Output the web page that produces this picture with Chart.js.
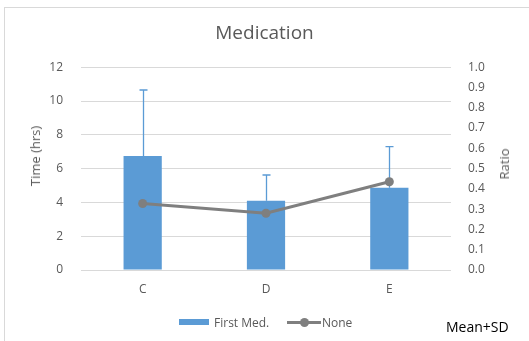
<!DOCTYPE html>
<html>
<head>
<meta charset="utf-8">
<script src="https://cdn.jsdelivr.net/npm/chart.js@4/dist/chart.umd.min.js"></script>
<style>
  html, body { margin: 0; padding: 0; background: #fff; overflow: hidden; }
  #wrap { position: relative; width: 529px; height: 341px; overflow: hidden; }
  #frame { position: absolute; left: 4px; top: 7px; width: 600px; height: 400px; border: 1px solid #d9d9d9; }
  canvas { position: absolute; left: 0; top: 0; }
  .lg { position: absolute; top: 314px; font: 12px "Open Sans", sans-serif; color: #595959; white-space: nowrap; }
  .sw { position: absolute; }
  #note { position: absolute; left: 446px; top: 317px; font: 14px "Open Sans", sans-serif; color: #000; white-space: nowrap; }
  .at { position: absolute; width: 0; height: 0; }
  .at span { position: absolute; left: 0; top: 0; transform: translate(-50%, -50%) rotate(-90deg); font: 13px "Open Sans", sans-serif; color: #595959; white-space: nowrap; }
</style>
</head>
<body>
<div id="wrap">
  <div id="frame"></div>
  <canvas id="c" width="529" height="341"></canvas>
  <div class="at" style="left:35px;top:156px"><span>Time (hrs)</span></div>
  <div class="at" style="left:504px;top:164px"><span>Ratio</span></div>
  <div class="sw" style="left:179px;top:319px;width:30px;height:6px;background:#5b9bd5"></div>
  <div class="lg" style="left:214px">First Med.</div>
  <div class="sw" style="left:287px;top:321px;width:34px;height:3px;background:#7f7f7f"></div>
  <div class="sw" style="left:300px;top:318px;width:9px;height:9px;border-radius:50%;background:#7f7f7f"></div>
  <div class="lg" style="left:322px">None</div>
  <div id="note">Mean+SD</div>
</div>
<script>
const categories = ["C", "D", "E"];
const firstMedMean = [6.75, 4.1, 4.87];
const firstMedSD = [3.9, 1.52, 2.43];
const noneRatio = [0.328, 0.28, 0.435];
const leftTicks = [0, 2, 4, 6, 8, 10, 12];
const rightTicks = [0.0, 0.1, 0.2, 0.3, 0.4, 0.5, 0.6, 0.7, 0.8, 0.9, 1.0];

const errorBars = {
  id: 'errorBars',
  afterDatasetDraw(chart, args) {
    if (args.index !== 0) return;
    const ctx = chart.ctx;
    const y = chart.scales.y;
    const meta = args.meta;
    ctx.save();
    ctx.strokeStyle = '#5b9bd5';
    ctx.lineWidth = 1.3;
    meta.data.forEach((bar, i) => {
      const x = Math.round(bar.x) + 0.5;
      const yTop = y.getPixelForValue(firstMedMean[i] + firstMedSD[i]);
      const yBase = y.getPixelForValue(firstMedMean[i]);
      ctx.beginPath();
      ctx.moveTo(x, yBase);
      ctx.lineTo(x, yTop);
      ctx.moveTo(x - 4, yTop);
      ctx.lineTo(x + 4, yTop);
      ctx.stroke();
    });
    ctx.restore();
  }
};

const tickColor = '#595959';
const tickFont = { family: "'Open Sans', sans-serif", size: 12 };

new Chart(document.getElementById('c'), {
  data: {
    labels: categories,
    datasets: [
      {
        type: 'bar',
        label: 'First Med.',
        data: firstMedMean,
        backgroundColor: '#5b9bd5',
        yAxisID: 'y',
        order: 1,
        barPercentage: 0.31,
        categoryPercentage: 1.0
      },
      {
        type: 'line',
        label: 'None',
        data: noneRatio,
        borderColor: '#7f7f7f',
        backgroundColor: '#7f7f7f',
        borderWidth: 3,
        pointRadius: 4.5,
        pointBackgroundColor: '#7f7f7f',
        pointBorderWidth: 0,
        yAxisID: 'y1',
        order: 0,
        tension: 0
      }
    ]
  },
  options: {
    responsive: false,
    animation: false,
    events: [],
    layout: { padding: 0 },
    plugins: {
      legend: { display: false },
      tooltip: { enabled: false },
      title: {
        display: true,
        text: 'Medication',
        color: '#595959',
        font: { family: "'Open Sans', sans-serif", size: 19, weight: 'normal' },
        padding: { top: 22, bottom: 22.4 }
      }
    },
    scales: {
      x: {
        grid: { display: false, drawTicks: false },
        border: { display: false },
        ticks: { color: tickColor, font: tickFont, padding: 12 },
        afterFit(s) { s.height = 71; }
      },
      y: {
        position: 'left',
        min: 0, max: 12,
        afterBuildTicks(s) { s.ticks = leftTicks.map(v => ({ value: v })); },
        ticks: { color: tickColor, font: tickFont, padding: 18 },
        grid: { color: '#d9d9d9', lineWidth: 1, drawTicks: false },
        border: { display: false },
        afterFit(s) { s.width = 81; }
      },
      y1: {
        position: 'right',
        min: 0, max: 1,
        afterBuildTicks(s) { s.ticks = rightTicks.map(v => ({ value: v })); },
        ticks: { color: tickColor, font: tickFont, padding: 17, callback: v => Number(v).toFixed(1) },
        grid: { display: false, drawTicks: false },
        border: { display: false },
        afterFit(s) { s.width = 78; }
      }
    }
  },
  plugins: [errorBars]
});
</script>
</body>
</html>
